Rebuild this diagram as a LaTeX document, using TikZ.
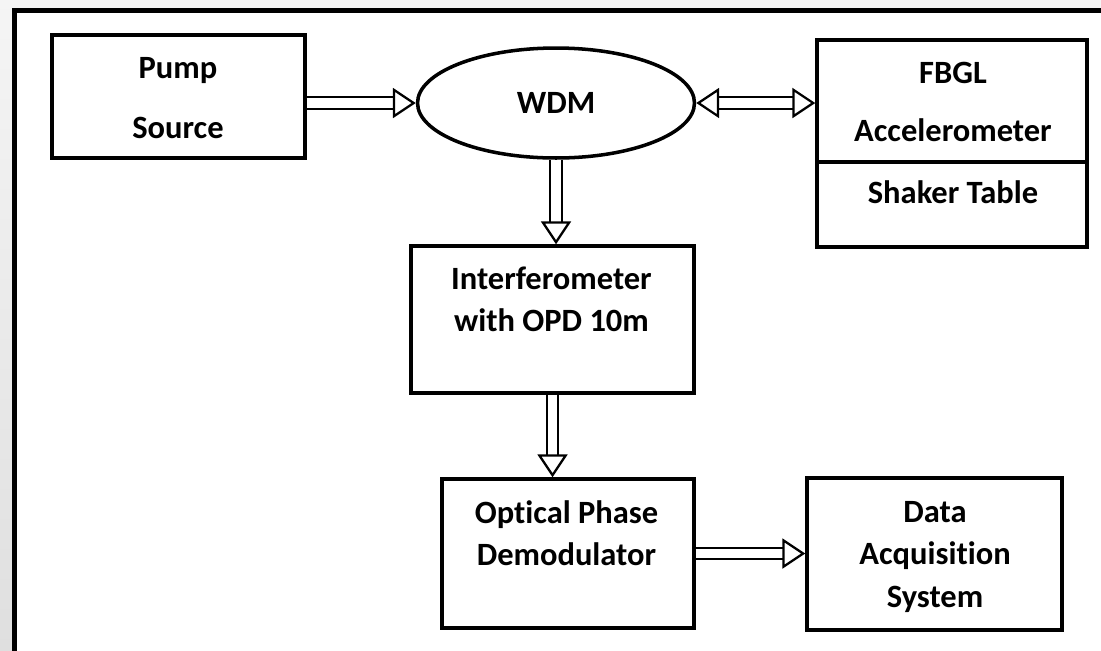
\documentclass[tikz,border=0pt]{standalone}
\usepackage{fontspec}
\setmainfont{Carlito}[Ligatures={NoCommon}]
\usetikzlibrary{arrows.meta,shapes.geometric}

\begin{document}
\begin{tikzpicture}[
    x=0.02cm,y=-0.02cm,
    >={Triangle[open, length=13pt, width=17pt, line width=1.3pt]},
    blk/.style={draw, line width=2pt, inner sep=0pt},
    ell/.style={ellipse, draw, line width=2pt, inner sep=0pt,
      font=\bfseries\fontsize{18.5}{24}\selectfont},
    lbl/.style={font=\bfseries\fontsize{18.5}{24}\selectfont,
      align=center, inner sep=0pt},
    link/.style={double, double distance=5.5pt, line width=1.1pt, ->}
  ]
    % page and frame
    \shade[top color=gray!8, bottom color=gray!25] (0,0) rectangle (1101,650);
    \useasboundingbox (0,0) rectangle (1101,650);
    \clip (0,0) rectangle (1101,650);
    \draw[line width=2.8pt, fill=white] (14.5,10.5) rectangle (1130,680);

    % blocks
    \node[blk, minimum width=5.06cm, minimum height=2.46cm] (pump) at (178.5,96.5) {};
    \node[ell, minimum width=5.54cm, minimum height=2.2cm] (wdm) at (556,103) {WDM};
    \node[blk, minimum width=5.4cm, minimum height=2.44cm] (fbgl) at (952,101) {};
    \node[blk, minimum width=5.4cm, minimum height=1.7cm] (shaker) at (952,204.5) {};
    \node[blk, minimum width=5.66cm, minimum height=2.94cm] (interf) at (552.5,319.5) {};
    \node[blk, minimum width=5.04cm, minimum height=2.98cm] (demod) at (568,553.5) {};
    \node[blk, minimum width=5.1cm, minimum height=3.04cm] (daq) at (934.5,554) {};

    % texts
    \node[lbl] (pumptxt) at (178,98) {Pump\\[10pt]Source};
    \node[lbl] (fbgltxt) at (953,102) {FBGL\\[9pt]Accelerometer};
    \node[lbl] (shakertxt) at (953,192.5) {Shaker Table};
    \node[lbl] (interftxt) at (551.5,299) {Interferometer\\with OPD 10m};
    \node[lbl] (demodtxt) at (566.5,533.5) {Optical Phase\\Demodulator};
    \node[lbl] (daqtxt) at (935,557) {Data\\Acquisition\\System};

    % connectors
    \draw[link] (pump.east |- wdm.west) -- (wdm.west);
    \draw[link, <->] (wdm.east) -- (wdm.east -| fbgl.west);
    \draw[link] (wdm.south) -- (wdm.south |- interf.north);
    \draw[link] (interf.south) -- (interf.south |- demod.north);
    \draw[link] (demod.east) -- (demod.east -| daq.west);
  \end{tikzpicture}
\end{document}
